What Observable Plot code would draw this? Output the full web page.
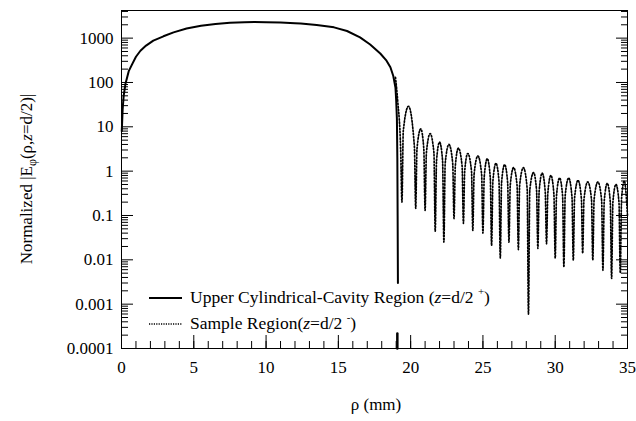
<!DOCTYPE html>
<html><head><meta charset="utf-8">
<script src="https://cdn.jsdelivr.net/npm/d3@7"></script>
<script src="https://cdn.jsdelivr.net/npm/@observablehq/plot@0.6"></script>
<style>
body{margin:0;background:#fff;}
#chart svg{display:block;}
#chart svg text{font-family:"Liberation Serif","Times New Roman",serif;}
</style></head><body><div id="chart"></div>
<script>
// Upper cylindrical-cavity region (solid)
const rhoCavity = [0.02,0.08,0.15,0.28,0.5,0.74,1.0,1.31,1.7,2.2,2.9,3.6,4.5,5.5,6.5,7.5,8.5,9.2,10,11,12,12.4,13.5,14.7,15.6,16.5,17.2,17.9,18.3,18.6,18.8,18.95,19.0,19.05,19.08,19.1,19.12];
const eCavity   = [8,25,50,95,180,260,380,520,680,880,1100,1350,1650,1900,2080,2220,2290,2300,2290,2240,2170,2150,1980,1750,1450,1040,720,450,320,220,140,77,40,15,2,0.1,0.003];

// Sample region (dotted)
const rhoSample = [18.95,19.10,19.31,19.40,19.49,19.85,20.26,20.35,20.44,20.70,20.91,21.00,21.09,21.35,21.61,21.70,21.79,22.00,22.21,22.30,22.39,22.65,22.91,23.00,23.09,23.30,23.56,23.65,23.74,23.95,24.21,24.30,24.39,24.65,24.91,25.00,25.09,25.30,25.51,25.60,25.69,25.90,26.11,26.20,26.29,26.50,26.71,26.80,26.89,27.12,27.36,27.45,27.54,27.80,28.06,28.15,28.24,28.50,28.71,28.80,28.89,29.10,29.31,29.40,29.49,29.70,29.91,30.00,30.09,30.30,30.51,30.60,30.69,30.93,31.16,31.25,31.34,31.58,31.81,31.90,31.99,32.25,32.51,32.60,32.69,32.95,33.21,33.30,33.39,33.60,33.81,33.90,33.99,34.20,34.41,34.50,34.59,34.78,35.00];
const eSample   = [130,40,3,0.2,8,29,3.5,0.145,3.2,9,3.2,0.13,2.6,7,2.6,0.044,1.7,4.5,1.7,0.025,1.5,4.0,1.5,0.085,1.3,3.3,1.3,0.066,1.0,2.5,1.0,0.046,0.85,2.2,0.85,0.04,0.75,1.9,0.7,0.021,0.6,1.5,0.6,0.011,0.55,1.4,0.55,0.025,0.48,1.2,0.48,0.017,0.48,1.2,0.4,0.0006,0.37,0.93,0.37,0.018,0.36,0.9,0.34,0.023,0.32,0.8,0.3,0.011,0.28,0.7,0.28,0.0068,0.28,0.7,0.26,0.0098,0.25,0.62,0.24,0.014,0.23,0.57,0.23,0.0098,0.23,0.57,0.22,0.0058,0.21,0.53,0.2,0.0038,0.2,0.5,0.2,0.005,0.24,0.6,0.1];

const cavityEdge = [19.08];

const yMajorTicks = [0.0001,0.001,0.01,0.1,1,10,100,1000];
const yTickLabels = ["0.0001","0.001","0.01","0.1","1","10","100","1000"];
const yMinorTicks = [];
for (let k = -4; k <= 3; k++) for (let m = 2; m <= 9; m++) { const v = m * Math.pow(10, k); if (v <= 4200) yMinorTicks.push(v); }
const xMajorTicks = [0,5,10,15,20,25,30,35];
const xTickLabels = ["0","5","10","15","20","25","30","35"];
const xMinorTicks = d3.range(0, 36);

const legendLabels = ["Upper Cylindrical-Cavity Region (", "Sample Region("];

const cavity = rhoCavity.map((r, i) => ({rho: r, e: eCavity[i]}));
const sample = rhoSample.map((r, i) => ({rho: r, e: eSample[i]}));

const tickShape = {draw(ctx, l) { ctx.moveTo(0, 0); ctx.lineTo(0, -l); }};
const ff = "Liberation Serif, Times New Roman, serif";

const chart = Plot.plot({
  width: 636, height: 421,
  marginLeft: 121, marginRight: 9, marginTop: 10, marginBottom: 73,
  style: {fontFamily: ff, fontSize: "17px", color: "#000", background: "#fff"},
  x: {domain: [0, 35], label: null},
  y: {type: "log", domain: [0.0001, 4200], label: null},
  marks: [
    Plot.axisY(yMajorTicks, {anchor: "left", tickSize: 0, tickPadding: 8, tickFormat: d => yTickLabels[yMajorTicks.indexOf(d)], label: null}),
    Plot.axisY(yMajorTicks, {anchor: "left", tickSize: -12, fill: "none", label: null}),
    Plot.axisY(yMinorTicks, {anchor: "left", tickSize: -7, fill: "none", label: null}),
    Plot.axisY(yMajorTicks, {anchor: "right", tickSize: -12, fill: "none", label: null}),
    Plot.axisY(yMinorTicks, {anchor: "right", tickSize: -7, fill: "none", label: null}),
    Plot.axisX(xMajorTicks, {anchor: "bottom", tickSize: 0, tickPadding: 12, tickFormat: d => xTickLabels[xMajorTicks.indexOf(d)], label: null}),
    Plot.axisX(xMajorTicks, {anchor: "bottom", tickSize: -13, fill: "none", label: null}),
    Plot.axisX(xMinorTicks, {anchor: "bottom", tickSize: -7, fill: "none", label: null}),
    Plot.frame({stroke: "#000"}),
    Plot.line(cavity, {x: "rho", y: "e", stroke: "#000", strokeWidth: 2}),
    Plot.line(sample, {x: "rho", y: "e", stroke: "#000", strokeWidth: 1.7, strokeDasharray: "1.4,1.8", curve: "monotone-x"}),
    Plot.vector(cavityEdge, {x: d => d, frameAnchor: "bottom", length: 15, anchor: "start", shape: tickShape, stroke: "#000", strokeWidth: 2.5})
  ]
});
chart.setAttribute("font-family", ff);
document.getElementById("chart").appendChild(chart);

const svg = d3.select(chart);

// y label
const yl = svg.append("text").attr("transform", "translate(32,179) rotate(-90)")
  .attr("text-anchor", "middle").attr("font-family", ff).attr("font-size", 17).attr("fill", "#000");
yl.append("tspan").text("Normalized |E");
yl.append("tspan").attr("font-size", 12).attr("dy", 4).text("\u03c6");
yl.append("tspan").attr("dy", -4).text("(\u03c1,");
yl.append("tspan").attr("font-style", "italic").text("z");
yl.append("tspan").text("=d/2)|");

// x label
svg.append("text").attr("x", 376).attr("y", 410).attr("text-anchor", "middle")
  .attr("font-family", ff).attr("font-size", 17).attr("fill", "#000").text("\u03c1 (mm)");

// legend
const rows = [{y: 298, dash: null, sup: "+"}, {y: 324, dash: "1.2,1.2", sup: "-"}];
rows.forEach((r, i) => {
  const ln = svg.append("line").attr("x1", 149).attr("x2", 182).attr("y1", r.y).attr("y2", r.y)
    .attr("stroke", "#000").attr("stroke-width", r.dash ? 1.3 : 2);
  if (r.dash) ln.attr("stroke-dasharray", r.dash);
  const t = svg.append("text").attr("x", 190).attr("y", r.y + 5).attr("text-anchor", "start")
    .attr("font-family", ff).attr("font-size", 17.5).attr("fill", "#000");
  t.append("tspan").text(legendLabels[i]);
  t.append("tspan").attr("font-style", "italic").text("z");
  t.append("tspan").text("=d/2 ");
  t.append("tspan").attr("font-size", 11).attr("dy", -8).text(r.sup);
  t.append("tspan").attr("dy", 8).text(")");
});
</script>
</body></html>
